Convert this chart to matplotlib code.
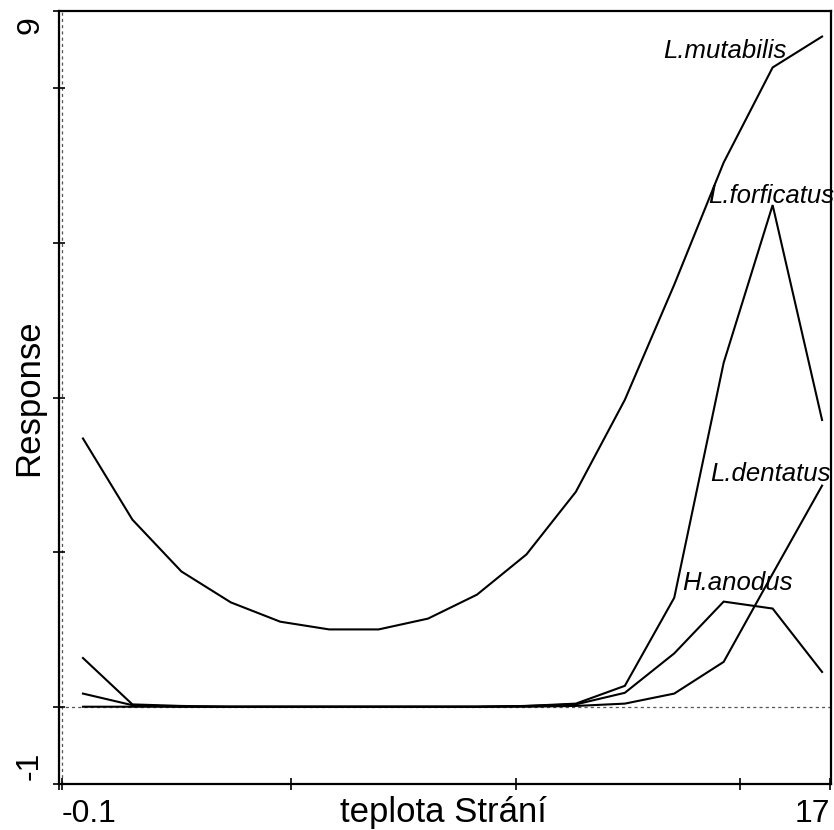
import matplotlib
matplotlib.use("Agg")
import matplotlib.pyplot as plt
import matplotlib.transforms as mtransforms

plt.rcParams['font.family'] = ['Liberation Sans', 'DejaVu Sans']

# gradient values (teplota Strání)
x = [0.37, 1.47, 2.56, 3.66, 4.76, 5.85, 6.95, 8.05, 9.14, 10.24, 11.34, 12.43, 13.53, 14.63, 15.72, 16.82]

l_mutabilis = [3.47, 2.42, 1.75, 1.35, 1.10, 1.00, 1.00, 1.14, 1.45, 1.97, 2.78, 3.97, 5.46, 7.04, 8.27, 8.67]
l_forficatus = [0.63, 0.03, 0.01, 0.0, 0.0, 0.0, 0.0, 0.0, 0.0, 0.01, 0.04, 0.27, 1.41, 4.45, 6.49, 3.71]
l_dentatus = [0.0, 0.0, 0.0, 0.0, 0.0, 0.0, 0.0, 0.0, 0.0, 0.0, 0.01, 0.04, 0.17, 0.58, 1.72, 2.86]
h_anodus = [0.17, 0.02, 0.0, 0.0, 0.0, 0.0, 0.0, 0.0, 0.0, 0.01, 0.03, 0.18, 0.69, 1.36, 1.27, 0.45]

species = ["L.mutabilis", "L.forficatus", "L.dentatus", "H.anodus"]
label_pos = [(13.28, 8.39), (14.28, 6.52), (14.33, 2.92), (13.71, 1.51)]

xlim = (-0.17, 17.03)
ylim = (-1, 9)

fig = plt.figure(figsize=(8.34, 8.30), dpi=100)
ax = fig.add_axes([0.0704, 0.0554, 0.9266, 0.9313])

for series in [l_mutabilis, l_forficatus, l_dentatus, h_anodus]:
    ax.plot(x, series, color='black', lw=1.5, solid_joinstyle='miter', zorder=3)

ax.axhline(0, color='#555555', lw=0.9, ls=(0, (2.5, 2.5)), zorder=1)
ax.axvline(-0.1, color='#555555', lw=0.9, ls=(0, (2.5, 2.5)), zorder=1)

ax.set_xlim(*xlim)
ax.set_ylim(*ylim)

for s in ax.spines.values():
    s.set_linewidth(1.6)

ax.set_xticks([xlim[0], -0.1, 5, 10, 15, 17])
ax.set_yticks([-1, 0, 2, 4, 6, 8, 9])
ax.set_xticklabels([])
ax.set_yticklabels([])
ax.tick_params(direction='inout', length=8, width=1.2, top=False, right=False)

for name, (lx, ly) in zip(species, label_pos):
    ax.text(lx, ly, name, fontsize=18.5, style='italic', ha='left', va='baseline', clip_on=False)

fs = 23
fs_lab = 25
xtr = mtransforms.blended_transform_factory(ax.transData, ax.transAxes)
ytr = mtransforms.blended_transform_factory(ax.transAxes, ax.transData)
ax.text(-0.1, -0.049, "-0.1", fontsize=fs, ha='left', va='baseline', transform=xtr)
ax.text(17, -0.049, "17", fontsize=fs, ha='right', va='baseline', transform=xtr)
ax.text(-0.037, 8.82, "9", fontsize=fs, ha='center', va='center', rotation=90, transform=ytr)
ax.text(-0.037, -0.76, "-1", fontsize=fs, ha='center', va='center', rotation=90, transform=ytr)
ax.text(0.498, -0.049, "teplota Strání", fontsize=fs_lab, ha='center', va='baseline', transform=ax.transAxes)
ax.text(-0.039, 0.4994, "Response", fontsize=fs_lab, ha='center', va='center', rotation=90, transform=ax.transAxes)

fig.savefig("out.png", dpi=100)
